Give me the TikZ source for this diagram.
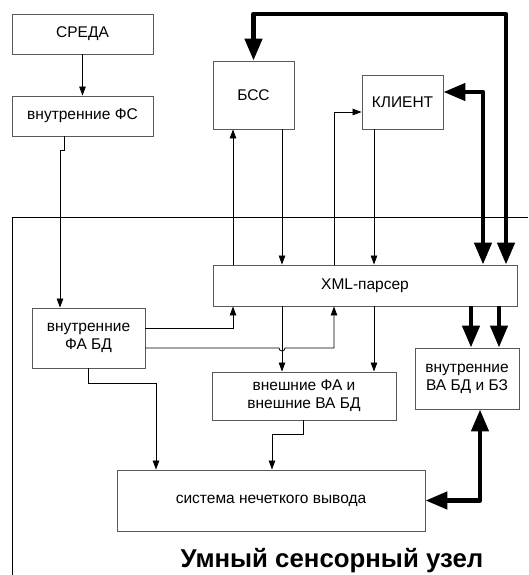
\documentclass[tikz,border=0pt]{standalone}
\usepackage{fontspec}
\setmainfont{Liberation Sans}
\usetikzlibrary{arrows.meta}
\tikzset{
  block/.style={draw=black!65, line width=0.9pt, fill=white, inner sep=0pt,
    align=center, font=\fontsize{15.5}{18}\selectfont},
  link/.style={line width=0.8pt, -{Triangle[length=9pt,width=6.5pt]}},
  bus/.style={line width=4.5pt, line join=round,
    -{Triangle[length=22pt,width=17pt]}},
  busboth/.style={bus, {Triangle[length=22pt,width=17pt]}-{Triangle[length=22pt,width=17pt]}}
}
\begin{document}
\begin{tikzpicture}[x=1pt,y=-1pt]
\useasboundingbox (0,0) rectangle (528,575);
\fill[white] (0,0) rectangle (528,575);

% enclosing frame of the node
\draw[line width=0.9pt] (12,575) |- (528,217);

% blocks
\node[block, minimum width=141pt, minimum height=40pt] (sreda) at (82.5,34) {СРЕДА};
\node[block, minimum width=141pt, minimum height=40pt] (fs) at (82.5,116) {внутренние ФС};
\node[block, minimum width=81pt, minimum height=68pt] (bss) at (253.5,95) {БСС};
\node[block, minimum width=81pt, minimum height=54pt] (klient) at (402.5,102) {КЛИЕНТ};
\node[block, minimum width=304pt, minimum height=41pt] (xml) at (365,285.5) {XML-парсер};
\node[block, minimum width=113pt, minimum height=60pt] (fabd) at (88.5,338) {внутренние\\ФА БД};
\node[block, minimum width=184pt, minimum height=48pt] (vneshn) at (304,396) {внешние ФА и\\внешние ВА БД};
\node[block, minimum width=104pt, minimum height=61pt] (vabd) at (467,378.5) {внутренние\\ВА БД и БЗ};
\node[block, minimum width=308pt, minimum height=61pt] (sys) at (271,500.5) {система нечеткого вывода};
\node[font=\fontsize{25.8}{28}\selectfont\bfseries, anchor=base] (title) at (332,567) {Умный сенсорный узел};

% column and row helpers
\coordinate (x60) at (60,0);
\coordinate (x156) at (156,0);
\coordinate (x233) at (233,0);
\coordinate (x272) at (272,0);
\coordinate (x282) at (282,0);
\coordinate (x334) at (334,0);
\coordinate (x374) at (374,0);
\coordinate (x471) at (471,0);
\coordinate (x480) at (480,0);
\coordinate (x483) at (483,0);
\coordinate (x499) at (499,0);
\coordinate (y92) at (0,92);
\coordinate (y112) at (0,112);
\coordinate (y328) at (0,328);
\coordinate (y348) at (0,348);
\coordinate (top) at (506,14);

% thin links
\draw[link] (sreda) -- (fs);
\draw[link] ([xshift=-18.5pt]fs.south) -- ++(0,14) -| (fabd.north -| x60);
\draw[link] (xml.north -| x233) -- (bss.south -| x233);
\draw[link] (bss.south -| x282) -- (xml.north -| x282);
\draw[link] (xml.north -| x334) |- (klient.west |- y112);
\draw[link] (klient.south -| x374) -- (xml.north -| x374);
\draw[link] (fabd.east |- y328) -| (xml.south -| x233);
\draw[link] (fabd.east |- y348) -- ([xshift=-3pt]x282 |- y348)
  arc[start angle=180, end angle=360, radius=3pt] -- (334,348) -- (xml.south -| x334);
\draw[link] (xml.south -| x282) -- (vneshn.north -| x282);
\draw[link] (xml.south -| x374) -- (vneshn.north -| x374);
\draw[link] (fabd.south) -- ++(0,15) -| (sys.north -| x156);
\draw[link] ([xshift=-1pt]vneshn.south) -- ++(0,14) -| (sys.north -| x272);

% thick buses
\draw[busboth] (xml.north -| top) -- (top) -| (bss.north);
\draw[busboth] (xml.north -| x483) |- (klient.east |- y92);
\draw[bus] (xml.south -| x471) -- (vabd.north -| x471);
\draw[bus] (xml.south -| x499) -- (vabd.north -| x499);
\draw[busboth] (vabd.south -| x480) |- (sys.east);
\end{tikzpicture}
\end{document}
